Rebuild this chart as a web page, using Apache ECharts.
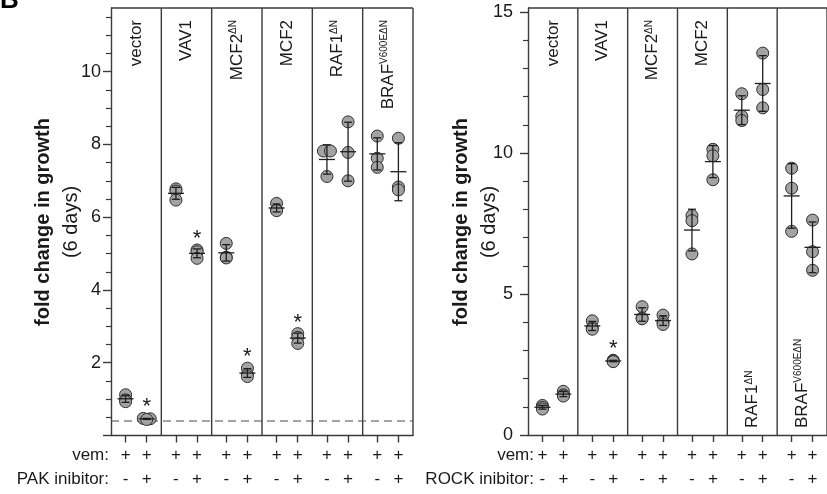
<!DOCTYPE html>
<html><head><meta charset="utf-8">
<script src="https://cdn.jsdelivr.net/npm/echarts@6/dist/echarts.min.js"></script>
<style>html,body{margin:0;padding:0;background:#fff}#c{width:827px;height:494px}</style>
</head><body><div id="c"></div>
<script>
// ---------- data ----------
const groupNames = ['vector', 'VAV1', 'MCF2', 'MCF2', 'RAF1', 'BRAF'];
const groupSups  = ['', '', 'ΔN', '', 'ΔN', 'V600EΔN'];

// left panel: vem + PAK inhibitor
const leftMinus = [[1.12, 0.98, 0.93], [6.78, 6.72, 6.47], [5.28, 4.90, 4.88], [6.38, 6.20, 6.18], [7.82, 7.82, 7.12], [8.23, 7.62, 7.37]];
const leftPlus  = [[0.47, 0.46, 0.44], [5.10, 5.05, 4.87], [1.85, 1.68, 1.62], [2.80, 2.70, 2.53], [8.62, 7.78, 7.00], [8.17, 6.83, 6.75]];
const leftStars = [true, true, true, true, false, false];
const leftBaseline = [0.4, 0.4];

// right panel: vem + ROCK inhibitor
const rightMinus = [[1.05, 0.98, 0.92], [4.05, 3.80, 3.75], [4.55, 4.15, 4.12], [7.78, 7.60, 6.42], [12.10, 11.30, 11.15], [9.46, 8.75, 7.22]];
const rightPlus  = [[1.55, 1.42, 1.38], [2.65, 2.62, 2.60], [4.25, 4.00, 3.92], [10.13, 9.90, 9.05], [13.54, 12.25, 11.60], [7.62, 6.50, 5.84]];
const rightStars = [false, true, false, false, false, false];
const rightLabelAtBottom = [false, false, false, false, true, true];

const leftYTicks  = [0, 2, 4, 6, 8, 10];
const rightYTicks = [0, 5, 10, 15];
const leftYMax = 11.75, rightYMax = 15.14;
const vemRow   = ['+', '+'];
const inhibRow = ['-', '+'];
const leftInhibitor = 'PAK inibitor:';
const rightInhibitor = 'ROCK inibitor:';
const yTitle = 'fold change in growth';
const ySub = '(6 days)';

// ---------- chart ----------
const FF = '"Liberation Sans", Arial, Helvetica, sans-serif';
const INK = '#1a1a1a';
const LINE = '#3a3a3a';
const OFF = [0.29, 0.71];
const mean = a => a.reduce((s, v) => s + v, 0) / a.length;
const sd = a => { const m = mean(a); return Math.sqrt(a.reduce((s, v) => s + (v - m) * (v - m), 0) / (a.length - 1)); };
const xTickPos = [];
for (let g = 0; g < 6; g++) { xTickPos.push(g + OFF[0], g + OFF[1]); }

function minorOf(ticks, step, max) {
  const out = [];
  for (let v = step; v < max; v += step) {
    const r = Math.round(v * 100) / 100;
    if (!ticks.includes(r)) out.push(r);
  }
  return out;
}

const grids = [
  { left: 111, top: 8, width: 302, height: 427.5 },
  { left: 528, top: 8, width: 304, height: 427 }
];

function xAxisFor(i) {
  return {
    gridIndex: i, type: 'value', min: 0, max: 6,
    axisLine: { show: true, onZero: false, lineStyle: { color: LINE, width: 1.4 } },
    axisTick: { show: true, customValues: xTickPos, length: 7, lineStyle: { color: LINE, width: 1.4 } },
    axisLabel: {
      customValues: xTickPos, margin: 8, fontSize: 17, lineHeight: 24, color: INK, fontFamily: FF,
      formatter: v => { const c = (v - Math.floor(v)) > 0.5 ? 1 : 0; return vemRow[c] + '\n' + inhibRow[c]; }
    },
    splitLine: { show: false }
  };
}
function yAxesFor(i, ticks, max, step, margin) {
  return [{
    gridIndex: i, type: 'value', min: 0, max: max, position: 'left',
    axisLine: { show: true, onZero: false, lineStyle: { color: LINE, width: 1.4 } },
    axisTick: { show: true, customValues: ticks, length: 8, lineStyle: { color: LINE, width: 1.4 } },
    axisLabel: { customValues: i === 0 ? ticks.filter(t => t > 0) : ticks, margin: margin, fontSize: 18, color: INK, fontFamily: FF },
    splitLine: { show: false }
  }, {
    gridIndex: i, type: 'value', min: 0, max: max, position: 'left',
    axisLine: { show: false, onZero: false },
    axisTick: { show: true, customValues: minorOf(ticks, step, max), length: 5, lineStyle: { color: LINE, width: 1.2 } },
    axisLabel: { show: false },
    splitLine: { show: false }
  }];
}

function panelSeries(p, minus, plus, stars, yMax, labelBottom, baseline) {
  const xi = p, yi = p * 2;
  const conds = [minus, plus];
  const pts = [], bars = [], starData = [];
  for (let g = 0; g < 6; g++) for (let c = 0; c < 2; c++) {
    const vals = conds[c][g];
    const x = g + OFF[c];
    vals.forEach((v, i) => {
      const k = vals.findIndex(w => Math.abs(w - v) < 0.02);
      const hasDup = vals.some((w, j) => j !== i && Math.abs(w - v) < 0.02);
      const dx = hasDup ? (k === i ? -3.5 : 3.5) : 0;
      pts.push({ value: [x, v], symbolOffset: [dx, 0] });
    });
    bars.push([x, mean(vals), sd(vals)]);
    if (c === 1 && stars[g]) starData.push([x, Math.max(...vals)]);
  }
  const series = [];
  // frame: dividers + top border
  series.push({
    type: 'custom', xAxisIndex: xi, yAxisIndex: yi, silent: true, z: 1,
    data: [[1, 0], [2, 0], [3, 0], [4, 0], [5, 0], [6, 0]],
    renderItem: (params, api) => {
      const g = api.value(0);
      const b = api.coord([g, 0]), t = api.coord([g, yMax]), t0 = api.coord([g - 1, yMax]);
      const st = { stroke: LINE, lineWidth: 1.4 };
      return { type: 'group', children: [
        { type: 'line', shape: { x1: b[0], y1: b[1], x2: t[0], y2: t[1] }, style: st },
        { type: 'line', shape: { x1: t0[0], y1: t0[1], x2: t[0], y2: t[1] }, style: st }
      ] };
    }
  });
  if (baseline) {
    series.push({
      type: 'line', xAxisIndex: xi, yAxisIndex: yi, silent: true, z: 1, symbol: 'none',
      data: [[0, baseline[0]], [6, baseline[1]]],
      lineStyle: { color: '#4a4a4a', width: 1.1, type: [8, 5] }
    });
  }
  series.push({
    type: 'scatter', xAxisIndex: xi, yAxisIndex: yi, silent: true, z: 2,
    symbol: 'circle', symbolSize: 12, data: pts,
    itemStyle: { color: '#a3a3a3', borderColor: '#2e2e2e', borderWidth: 1, opacity: 1 }
  });
  series.push({
    type: 'custom', xAxisIndex: xi, yAxisIndex: yi, silent: true, z: 3,
    data: bars,
    renderItem: (params, api) => {
      const x = api.value(0), m = api.value(1), s = api.value(2);
      const pm = api.coord([x, m]), pt = api.coord([x, m + s]), pb = api.coord([x, m - s]);
      const st = { stroke: '#1e1e1e', lineWidth: 1.3 };
      return { type: 'group', children: [
        { type: 'line', shape: { x1: pm[0] - 8, y1: pm[1], x2: pm[0] + 8, y2: pm[1] }, style: st },
        { type: 'line', shape: { x1: pt[0], y1: pt[1], x2: pb[0], y2: pb[1] }, style: st },
        { type: 'line', shape: { x1: pt[0] - 4, y1: pt[1], x2: pt[0] + 4, y2: pt[1] }, style: st },
        { type: 'line', shape: { x1: pb[0] - 4, y1: pb[1], x2: pb[0] + 4, y2: pb[1] }, style: st }
      ] };
    }
  });
  series.push({
    type: 'custom', xAxisIndex: xi, yAxisIndex: yi, silent: true, z: 3,
    data: starData,
    renderItem: (params, api) => {
      const pt = api.coord([api.value(0), api.value(1)]);
      return { type: 'text', x: pt[0], y: pt[1] - 11,
        style: { text: '*', fontSize: 22, fontFamily: FF, fill: INK, align: 'center', verticalAlign: 'middle' } };
    }
  });
  series.push({
    type: 'custom', xAxisIndex: xi, yAxisIndex: yi, silent: true, z: 3,
    data: groupNames.map((n, g) => [g + 0.5, g]),
    renderItem: (params, api) => {
      const gx = api.value(0), g = api.value(1);
      const bottom = labelBottom && labelBottom[g];
      const pt = bottom ? api.coord([gx, 0]) : api.coord([gx, yMax]);
      const txt = '{n|' + groupNames[g] + '}' + (groupSups[g] ? '{s|' + groupSups[g] + '}' : '');
      return { type: 'text', x: pt[0], y: bottom ? pt[1] - 7 : pt[1] + 12, rotation: Math.PI / 2,
        style: { text: txt, align: bottom ? 'left' : 'right', verticalAlign: 'middle', fill: INK,
          rich: { n: { fontSize: 17, fontFamily: FF, fill: INK }, s: { fontSize: 10, fontFamily: FF, fill: INK, verticalAlign: 'top' } } } };
    }
  });
  return series;
}

const titleRich = {
  b: { fontSize: 20, fontWeight: 'bold', fontFamily: FF, lineHeight: 28, fill: INK },
  n: { fontSize: 20, fontFamily: FF, lineHeight: 28, fill: INK }
};
const titleText = '{b|' + yTitle + '}\n{n|' + ySub + '}';

const option = {
  animation: false,
  backgroundColor: '#fff',
  grid: grids,
  xAxis: [xAxisFor(0), xAxisFor(1)],
  yAxis: [...yAxesFor(0, leftYTicks, leftYMax, 0.5, 10), ...yAxesFor(1, rightYTicks, rightYMax, 1, 15)],
  series: [
    ...panelSeries(0, leftMinus, leftPlus, leftStars, leftYMax, null, leftBaseline),
    ...panelSeries(1, rightMinus, rightPlus, rightStars, rightYMax, rightLabelAtBottom, null)
  ],
  graphic: [
    { type: 'text', x: 57.5, y: 222, rotation: Math.PI / 2, silent: true,
      style: { text: titleText, rich: titleRich, align: 'center', verticalAlign: 'middle', fill: INK } },
    { type: 'text', x: 475, y: 222, rotation: Math.PI / 2, silent: true,
      style: { text: titleText, rich: titleRich, align: 'center', verticalAlign: 'middle', fill: INK } },
    { type: 'text', x: 109, y: 455, silent: true, style: { text: 'vem:', fontSize: 17, fontFamily: FF, fill: INK, align: 'right', verticalAlign: 'middle' } },
    { type: 'text', x: 109, y: 479, silent: true, style: { text: leftInhibitor, fontSize: 17, fontFamily: FF, fill: INK, align: 'right', verticalAlign: 'middle' } },
    { type: 'text', x: 534, y: 455, silent: true, style: { text: 'vem:', fontSize: 17, fontFamily: FF, fill: INK, align: 'right', verticalAlign: 'middle' } },
    { type: 'text', x: 534, y: 479, silent: true, style: { text: rightInhibitor, fontSize: 17, fontFamily: FF, fill: INK, align: 'right', verticalAlign: 'middle' } },
    { type: 'text', x: 0, y: 14, silent: true, style: { text: 'B', fontSize: 26, fontWeight: 'bold', fontFamily: FF, fill: '#000', align: 'left', verticalAlign: 'bottom' } }
  ]
};
const chart = echarts.init(document.getElementById('c'));
chart.setOption(option);
</script>
</body></html>
